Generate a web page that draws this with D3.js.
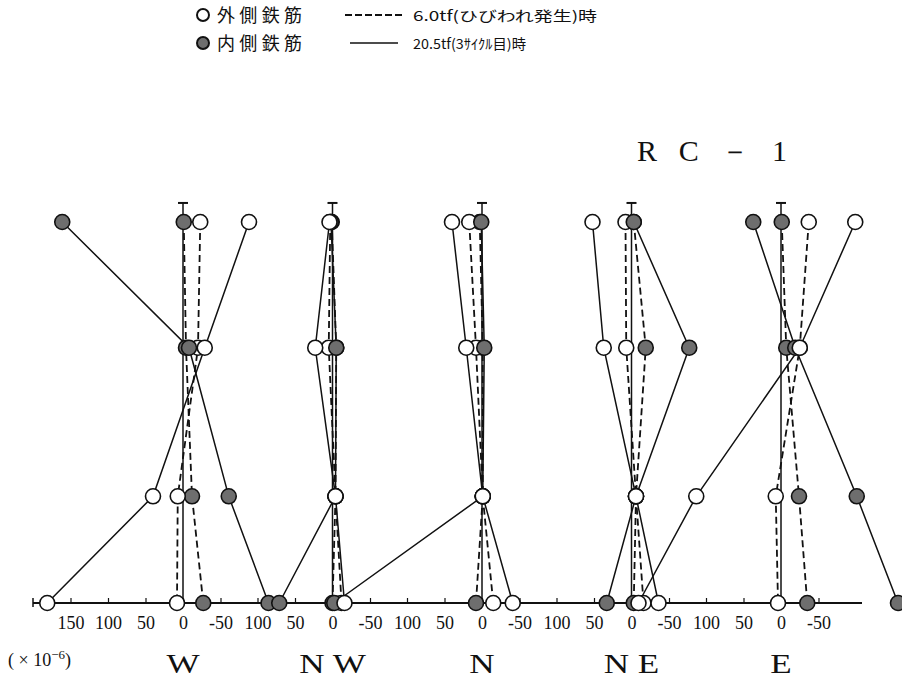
<!DOCTYPE html>
<html>
<head>
<meta charset="utf-8">
<script src="https://cdn.jsdelivr.net/npm/d3@7"></script>
<style>
body { margin: 0; background: #fff; }
</style>
</head>
<body>
<div id="chart"></div>
<script>
// wall directions, left to right
let panels = ["W", "NW", "N", "NE", "E"];
let panelNames = ["W", "N W", "N", "N E", "E"];
// gauge heights (bottom = 0, top gauge = 100)
let heights = [100, 67, 28, 0];

// strain (x10^-6) for each panel, top gauge -> bottom gauge
let outer60 = [
    [-23, -20, 7, 8],
    [3, 5, -4, -12],
    [17, 8, -1, -15],
    [8, 7, -6, -16],
    [-37, -25, 7, 4]
];
let inner60 = [
    [-1, -4, -12, -27],
    [1, -5, -4, 0],
    [3, -1, -1, 8],
    [-3, -19, -6, -3],
    [-1, -7, -24, -35]
];
let outer205 = [
    [-88, -29, 40, 181],
    [4, 23, -4, -16],
    [40, 21, -1, -41],
    [52, 37, -6, -36],
    [-99, -25, 113, 190]
];
let inner205 = [
    [161, -8, -61, -114],
    [2, -5, -4, 71],
    [1, -3, -1, 197],
    [-3, -77, -6, 33],
    [37, -19, -101, -156]
];

let wTicks = [150, 100, 50, 0, -50];
let otherTicks = [100, 50, 0, -50];

// draw order: inner 6.0, outer 6.0, inner 20.5, outer 20.5
let series = [
    {values: inner60, filled: true, dashed: true},
    {values: outer60, filled: false, dashed: true},
    {values: inner205, filled: true, dashed: false},
    {values: outer205, filled: false, dashed: false}
];

let svg = d3.select("#chart")
    .append("svg")
    .attr("width", 902)
    .attr("height", 689);

let panelX = d3.scalePoint().domain(panels).range([183, 781]);
let y = d3.scaleLinear().domain([0, 100]).range([603, 222]);

function xScale(p) {
    let c = panelX(p);
    return d3.scaleLinear().domain([0, 100]).range([c, c - 75]);
}

let ink = "#111";

// horizontal strain axis
svg.append("line")
    .attr("x1", xScale("W")(200))
    .attr("x2", xScale("E")(-108))
    .attr("y1", y(0))
    .attr("y2", y(0))
    .attr("stroke", ink)
    .attr("stroke-width", 2);
svg.append("line")
    .attr("x1", xScale("W")(200))
    .attr("x2", xScale("W")(200))
    .attr("y1", y(0) - 5)
    .attr("y2", y(0) + 4)
    .attr("stroke", ink)
    .attr("stroke-width", 1.5);

panels.forEach((p, i) => {
    let sx = xScale(p);
    let g = svg.append("g")
        .attr("transform", `translate(0,${y(0)})`)
        .call(d3.axisBottom(sx)
            .tickValues(i == 0 ? wTicks : otherTicks)
            .tickSize(-5)
            .tickPadding(13)
            .tickFormat(d => d));
    g.select(".domain").remove();
    g.selectAll("line").attr("stroke", ink).attr("stroke-width", 1.2);
    g.selectAll("text")
        .attr("fill", ink)
        .attr("font-family", "Liberation Serif")
        .attr("font-size", 18);

    // zero line with a small cap on top
    svg.append("line")
        .attr("x1", sx(0)).attr("x2", sx(0))
        .attr("y1", y(0)).attr("y2", y(105))
        .attr("stroke", ink)
        .attr("stroke-width", 1.5);
    svg.append("line")
        .attr("x1", sx(0) - 5).attr("x2", sx(0) + 5)
        .attr("y1", y(105)).attr("y2", y(105))
        .attr("stroke", ink)
        .attr("stroke-width", 2);

    // direction name
    svg.append("text")
        .attr("transform", `translate(${sx(0)},673) scale(1.3,1)`)
        .attr("text-anchor", "middle")
        .attr("font-family", "Liberation Serif")
        .attr("font-size", 27)
        .attr("fill", ink)
        .text(panelNames[i]);
});

let line = d3.line();

// profiles
series.forEach(s => {
    panels.forEach((p, i) => {
        let sx = xScale(p);
        let pts = s.values[i].map((v, k) => [sx(v), y(heights[k])]);
        svg.append("path")
            .datum(pts)
            .attr("d", line)
            .attr("fill", "none")
            .attr("stroke", ink)
            .attr("stroke-width", s.dashed ? 1.8 : 1.5)
            .attr("stroke-dasharray", s.dashed ? "7,4" : null);
    });
});

// gauge markers
series.forEach(s => {
    panels.forEach((p, i) => {
        let sx = xScale(p);
        svg.selectAll(null)
            .data(s.values[i])
            .enter()
            .append("circle")
            .attr("cx", d => sx(d))
            .attr("cy", (d, k) => y(heights[k]))
            .attr("r", 7.5)
            .attr("fill", s.filled ? "#6e6e6e" : "#fff")
            .attr("stroke", ink)
            .attr("stroke-width", 1.6);
    });
});

// unit
let unit = svg.append("text")
    .attr("x", 8)
    .attr("y", 666)
    .attr("font-family", "Liberation Serif")
    .attr("font-size", 18)
    .attr("fill", ink);
unit.append("tspan").text("( × 10");
unit.append("tspan").attr("dy", -7).attr("font-size", 13).text("−6");
unit.append("tspan").attr("dy", 7).text(")");

// title
svg.append("text")
    .attr("x", 637)
    .attr("y", 161)
    .attr("font-family", "Liberation Serif")
    .attr("font-size", 30)
    .attr("fill", ink)
    .attr("textLength", 150)
    .attr("lengthAdjust", "spacing")
    .text("RC－1");

// legend
let legendFont = "Noto Sans CJK JP";
svg.append("circle").attr("cx", 203).attr("cy", 15).attr("r", 6)
    .attr("fill", "#fff").attr("stroke", ink).attr("stroke-width", 2);
svg.append("circle").attr("cx", 203).attr("cy", 43).attr("r", 6)
    .attr("fill", "#6e6e6e").attr("stroke", ink).attr("stroke-width", 2);
svg.append("text").attr("x", 217).attr("y", 22)
    .attr("font-family", legendFont).attr("font-size", 18).attr("fill", ink)
    .attr("textLength", 85).attr("lengthAdjust", "spacing")
    .text("外側鉄筋");
svg.append("text").attr("x", 217).attr("y", 50)
    .attr("font-family", legendFont).attr("font-size", 18).attr("fill", ink)
    .attr("textLength", 85).attr("lengthAdjust", "spacing")
    .text("内側鉄筋");
svg.append("line").attr("x1", 345).attr("x2", 402).attr("y1", 15).attr("y2", 15)
    .attr("stroke", ink).attr("stroke-width", 1.8).attr("stroke-dasharray", "7,3");
svg.append("line").attr("x1", 350).attr("x2", 398).attr("y1", 43).attr("y2", 43)
    .attr("stroke", ink).attr("stroke-width", 1.6);
svg.append("text").attr("x", 413).attr("y", 21)
    .attr("font-family", legendFont).attr("font-size", 14).attr("fill", ink)
    .attr("textLength", 184).attr("lengthAdjust", "spacingAndGlyphs")
    .text("6.0tf(ひびわれ発生)時");
svg.append("text").attr("x", 413).attr("y", 49)
    .attr("font-family", legendFont).attr("font-size", 14).attr("fill", ink)
    .attr("textLength", 113).attr("lengthAdjust", "spacingAndGlyphs")
    .text("20.5tf(3ｻｲｸﾙ目)時");
</script>
</body>
</html>
